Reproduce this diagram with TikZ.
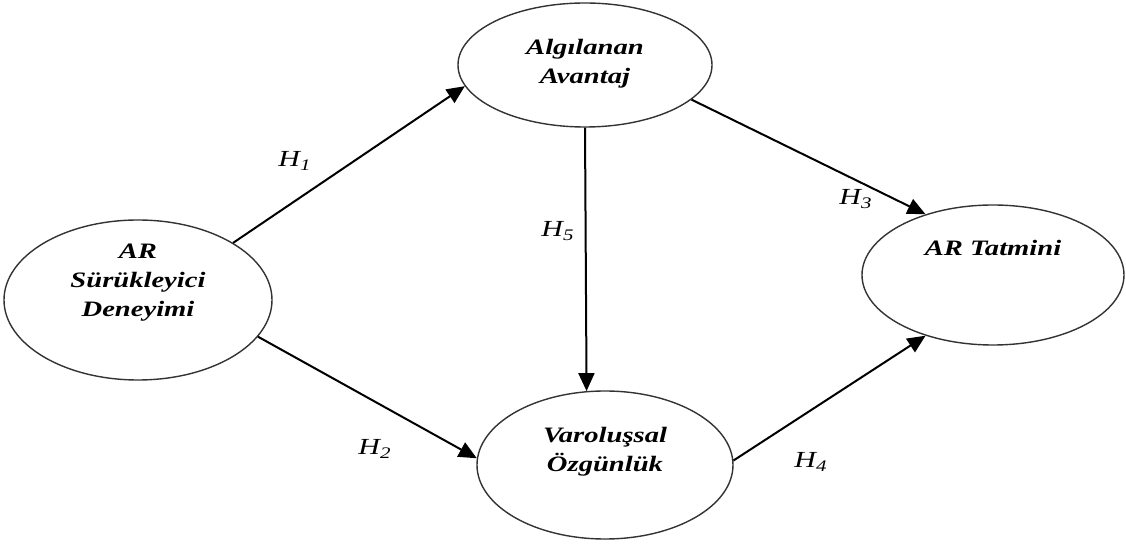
\documentclass[tikz,border=0pt]{standalone}
\usepackage{fontspec}
\newfontfamily\elfont[FakeStretch=1.3]{Liberation Serif}
\usetikzlibrary{arrows.meta,shapes.geometric}

\begin{document}
\begin{tikzpicture}[
  x=0.5pt, y=-0.5pt,
  >={Triangle[length=9pt,width=8pt]},
  construct/.style={
    ellipse,
    draw=black!80,
    line width=0.7pt,
    inner sep=0pt,
    fill=white
  },
  ctext/.style={
    font=\elfont\fontsize{11}{14.5}\selectfont\bfseries\itshape,
    align=center
  },
  hypo/.style={->, line width=1pt, draw=black},
  hlabel/.style={font=\elfont\fontsize{11.5}{13}\selectfont\itshape}
]

\useasboundingbox (0,0) rectangle (1126,545);

\node[construct, minimum width=134pt, minimum height=80pt,
  label={[ctext, yshift=8.5pt]center:AR\\Sürükleyici\\Deneyimi}] (ar) at (138,300) {};
\node[construct, minimum width=127pt, minimum height=62pt,
  label={[ctext, yshift=0.5pt]center:Algılanan\\Avantaj}] (aa) at (585,65) {};
\node[construct, minimum width=128pt, minimum height=74pt,
  label={[ctext, yshift=6.5pt]center:Varoluşsal\\Özgünlük}] (vo) at (605,465) {};
\node[construct, minimum width=131pt, minimum height=70pt,
  label={[ctext, yshift=13.5pt]center:AR Tatmini}] (ts) at (993,275) {};

\draw[hypo] (ar.31) -- (aa.190);
\draw[hypo] (ar.343) -- (vo.177);
\draw[hypo] (aa.south) -- (vo.104);
\draw[hypo] (aa.342) -- (ts.138);
\draw[hypo] (vo.2) -- (ts.222);

\node[hlabel] (h1) at (295,161) {H\textsubscript{1}};
\node[hlabel] (h2) at (375,449) {H\textsubscript{2}};
\node[hlabel] (h3) at (856,199) {H\textsubscript{3}};
\node[hlabel] (h4) at (811,462) {H\textsubscript{4}};
\node[hlabel] (h5) at (558,231) {H\textsubscript{5}};

\end{tikzpicture}
\end{document}
